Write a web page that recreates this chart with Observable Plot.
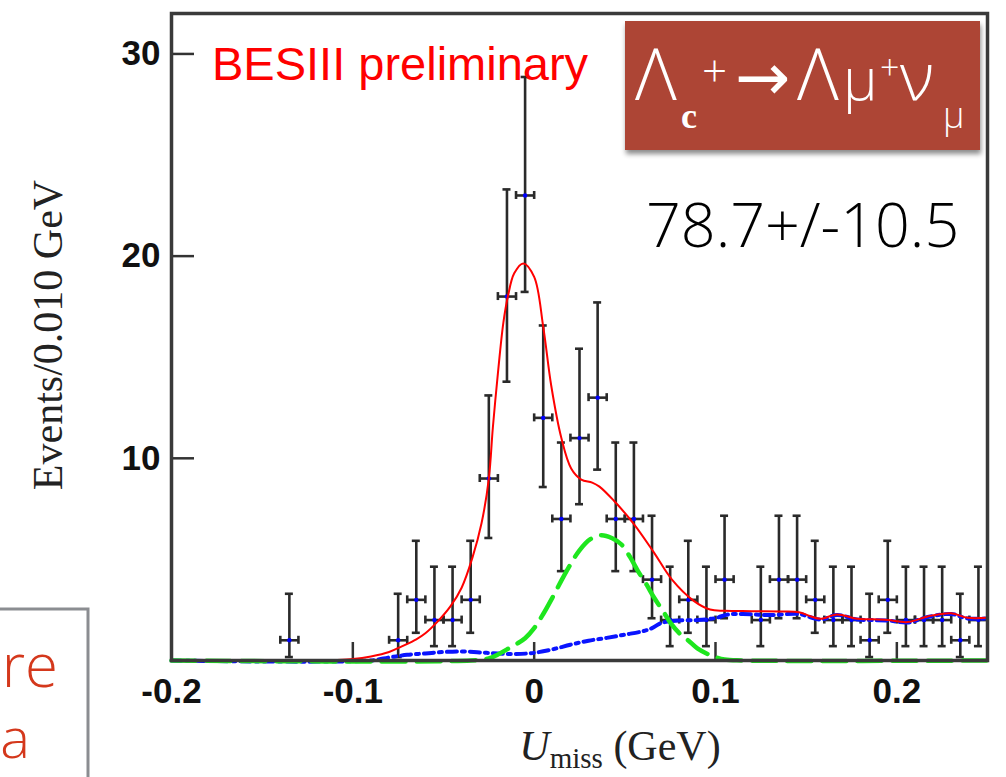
<!DOCTYPE html>
<html><head><meta charset="utf-8">
<script src="https://cdn.jsdelivr.net/npm/d3@7"></script>
<script src="https://cdn.jsdelivr.net/npm/@observablehq/plot@0.6"></script>
<style>body{margin:0;background:#fff;} svg{display:block}</style>
</head><body><div id="chart"></div>
<script>
// ---- data ----
const binCenters = [-0.135, -0.075, -0.065, -0.055, -0.045, -0.035, -0.025, -0.015, -0.005, 0.005, 0.015, 0.025, 0.035, 0.045, 0.055, 0.065, 0.075, 0.085, 0.095, 0.105, 0.125, 0.135, 0.145, 0.155, 0.165, 0.175, 0.185, 0.195, 0.205, 0.215, 0.225, 0.235, 0.245];
const counts     = [1, 1, 3, 2, 2, 3, 9, 18, 23, 12, 7, 11, 13, 7, 7, 4, 2, 3, 2, 4, 2, 4, 4, 3, 2, 2, 1, 3, 2, 2, 2, 1, 2];
const errLow     = [0.83, 0.83, 1.63, 1.29, 1.29, 1.63, 2.94, 4.21, 4.77, 3.42, 2.58, 3.27, 3.56, 2.58, 2.58, 1.91, 1.29, 1.63, 1.29, 1.91, 1.29, 1.91, 1.91, 1.63, 1.29, 1.29, 0.83, 1.63, 1.29, 1.29, 1.29, 0.83, 1.29];
const errHigh    = [2.30, 2.30, 2.92, 2.64, 2.64, 2.92, 4.11, 5.30, 5.86, 4.57, 3.78, 4.42, 4.71, 3.78, 3.78, 3.16, 2.64, 2.92, 2.64, 3.16, 2.64, 3.16, 3.16, 2.92, 2.64, 2.64, 2.30, 2.92, 2.64, 2.64, 2.64, 2.30, 2.64];
const binHalfWidth = 0.005;

const totalFitX = [-0.2, -0.12, -0.11, -0.10, -0.09, -0.08, -0.073, -0.065, -0.06, -0.053, -0.046, -0.04, -0.034, -0.029, -0.025, -0.0228, -0.02, -0.017, -0.0145, -0.011, -0.006, 0.0, 0.005, 0.0094, 0.015, 0.0204, 0.026, 0.032, 0.036, 0.044, 0.055, 0.066, 0.076, 0.088, 0.097, 0.105, 0.12, 0.135, 0.146, 0.152, 0.158, 0.167, 0.178, 0.186, 0.195, 0.206, 0.217, 0.23, 0.239, 0.25];
const totalFitY = [0, 0, 0.02, 0.07, 0.2, 0.42, 0.7, 1.05, 1.35, 1.95, 2.7, 3.6, 5.1, 6.8, 9.0, 11.5, 14.2, 16.7, 18.0, 19.15, 19.64, 18.97, 16.5, 13.6, 11.0, 9.5, 8.95, 8.8, 8.6, 7.9, 6.75, 5.35, 4.0, 2.95, 2.52, 2.46, 2.44, 2.42, 2.39, 2.2, 2.06, 2.28, 2.06, 2.04, 2.0, 1.9, 2.18, 2.34, 2.11, 2.11];

const peakingX = [-0.2, -0.035, -0.025, -0.02, -0.015, -0.01, -0.005, 0.0, 0.005, 0.01, 0.015, 0.02, 0.025, 0.031, 0.037, 0.043, 0.048, 0.053, 0.057, 0.062, 0.066, 0.071, 0.0755, 0.08, 0.085, 0.09, 0.0975, 0.105, 0.115, 0.25];
const peakingY = [0, 0, 0.1, 0.3, 0.55, 0.8, 1.1, 1.6, 2.3, 3.1, 3.95, 4.75, 5.45, 6.0, 6.2, 6.05, 5.75, 5.1, 4.46, 3.75, 3.13, 2.45, 1.82, 1.35, 0.99, 0.6, 0.25, 0.05, 0, 0];

const bkgX = [-0.2, -0.09, -0.08, -0.07, -0.06, -0.05, -0.04, -0.03, -0.02, -0.01, 0.0, 0.01, 0.02, 0.03, 0.04, 0.05, 0.06, 0.065, 0.07, 0.078, 0.09, 0.1, 0.107, 0.115, 0.13, 0.146, 0.152, 0.158, 0.167, 0.178, 0.186, 0.195, 0.206, 0.217, 0.23, 0.239, 0.25];
const bkgY = [0, 0, 0.15, 0.28, 0.35, 0.42, 0.45, 0.4, 0.35, 0.32, 0.38, 0.55, 0.78, 0.98, 1.12, 1.28, 1.45, 1.6, 1.85, 1.97, 2.0, 2.1, 2.28, 2.3, 2.25, 2.3, 2.15, 2.02, 2.25, 2.03, 2.0, 1.98, 1.88, 2.15, 2.3, 2.08, 2.08];

const xTickValues = [-0.2, -0.1, 0, 0.1, 0.2];
const xTickLabels = ["-0.2", "-0.1", "0", "0.1", "0.2"];
const yTickValues = [10, 20, 30];
const yTickLabels = ["10", "20", "30"];
const xDomain = [-0.2, 0.25];
const yDomain = [0, 32];

// ---- build ----
const points = binCenters.map((x, i) => ({x, n: counts[i], lo: counts[i] - errLow[i], hi: counts[i] + errHigh[i]}));
const series = (xs, ys) => xs.map((x, i) => ({x, y: ys[i]}));

const barColor = "#2a2a2a";
const tickFont = "'Liberation Sans Narrow', 'Arial Narrow', 'Liberation Sans', sans-serif";

const plot = Plot.plot({
  width: 1006, height: 777,
  marginLeft: 171, marginRight: 19, marginTop: 13, marginBottom: 117,
  x: {domain: xDomain},
  y: {domain: yDomain},
  style: {background: "white", overflow: "visible"},
  marks: [
    Plot.axisX({ticks: xTickValues, tickFormat: d => xTickLabels[xTickValues.indexOf(d)], tickSize: 0, tickPadding: 18, label: null,
      fontSize: 35, fontWeight: "bold", fontFamily: tickFont, fill: "#111"}),
    Plot.axisY({ticks: yTickValues, tickFormat: d => yTickLabels[yTickValues.indexOf(d)], tickSize: 0, tickPadding: 11, label: null,
      fontSize: 35, fontWeight: "bold", fontFamily: tickFont, fill: "#111"}),
    Plot.ruleX(xTickValues, {x: d => d, y1: 0, y2: 0, insetBottom: 18, stroke: "#333", strokeWidth: 2.5}),
    Plot.ruleY(yTickValues, {y: d => d, x1: xDomain[0], x2: xDomain[0], insetRight: -23, stroke: "#333", strokeWidth: 2.5}),
    // error bars
    Plot.ruleX(points, {x: "x", y1: "lo", y2: "hi", stroke: barColor, strokeWidth: 2.6}),
    Plot.ruleY(points, {y: "lo", x1: "x", x2: "x", insetLeft: -4, insetRight: -4, stroke: barColor, strokeWidth: 2.6}),
    Plot.ruleY(points, {y: "hi", x1: "x", x2: "x", insetLeft: -4, insetRight: -4, stroke: barColor, strokeWidth: 2.6}),
    Plot.ruleY(points, {y: "n", x1: d => d.x - binHalfWidth, x2: d => d.x + binHalfWidth, stroke: barColor, strokeWidth: 2.6}),
    Plot.ruleX(points, {x: d => d.x - binHalfWidth, y1: "n", y2: "n", insetTop: -4, insetBottom: -4, stroke: barColor, strokeWidth: 2.6}),
    Plot.ruleX(points, {x: d => d.x + binHalfWidth, y1: "n", y2: "n", insetTop: -4, insetBottom: -4, stroke: barColor, strokeWidth: 2.6}),
    Plot.dot(points, {x: "x", y: "n", r: 2.2, fill: "#0000ff", stroke: "none"}),
    // fit components
    Plot.line(series(bkgX, bkgY), {x: "x", y: "y", stroke: "#0a14ff", strokeWidth: 4, strokeDasharray: "10,5,3,5", curve: "catmull-rom"}),
    Plot.line(series(peakingX, peakingY), {x: "x", y: "y", stroke: "#1ee61e", strokeWidth: 4.5, strokeDasharray: "24,11", curve: "catmull-rom"}),
    Plot.line(series(totalFitX, totalFitY), {x: "x", y: "y", stroke: "#ff0000", strokeWidth: 2, curve: "catmull-rom"}),
    Plot.frame({stroke: "#3a3a3a", strokeWidth: 3.5})
  ]
});
document.getElementById("chart").appendChild(plot);

// ---- annotations ----
const svg = d3.select(plot);
const defs = svg.append("defs");
const f = defs.append("filter").attr("id", "boxshadow").attr("x", "-10%").attr("y", "-10%").attr("width", "125%").attr("height", "140%");
f.append("feDropShadow").attr("dx", 1).attr("dy", 4).attr("stdDeviation", 2.5).attr("flood-color", "#000").attr("flood-opacity", 0.45);

const ann = svg.append("g").attr("text-anchor", "start");
const sans = "'Liberation Sans', Arial, sans-serif";
const light = "'Open Sans', Lato, 'Liberation Sans', sans-serif";
const serif = "'Liberation Serif', 'Times New Roman', serif";

ann.append("text").attr("x", 212).attr("y", 80).attr("fill", "#ff0000").attr("text-anchor", "start")
  .attr("font-family", sans).attr("font-size", 47).text("BESIII preliminary");

ann.append("rect").attr("x", 625).attr("y", 21).attr("width", 355).attr("height", 129)
  .attr("fill", "#ad4434").attr("filter", "url(#boxshadow)");
const w = (x, y, size, txt, fam = light, weight = 300) =>
  ann.append("text").attr("x", x).attr("y", y).attr("fill", "#fff").attr("text-anchor", "start").attr("font-family", fam)
    .attr("font-size", size).attr("font-weight", weight).text(txt);
w(635, 100, 72, "Λ");
w(681, 128, 36, "c", serif, "bold");
w(702, 87, 44, "+");
w(735, 100, 66, "→", "'DejaVu Sans', sans-serif", "normal");
w(797, 100, 72, "Λ");
w(843, 100, 58, "μ");
w(880, 80, 34, "+");
w(900, 100, 66, "ν");
w(943, 128, 36, "μ");

ann.append("text").attr("x", 646).attr("y", 247).attr("fill", "#000").attr("text-anchor", "start")
  .attr("font-family", light).attr("font-weight", 300).attr("font-size", 61).text("78.7+/-10.5");

// axis titles
ann.append("text").attr("transform", "translate(48,335) rotate(-90)").attr("text-anchor", "middle")
  .attr("dominant-baseline", "central").attr("font-family", serif).attr("font-size", 42).attr("fill", "#222")
  .text("Events/0.010 GeV");
const xl = ann.append("text").attr("x", 620).attr("y", 760).attr("text-anchor", "middle")
  .attr("font-family", serif).attr("font-size", 42).attr("fill", "#222");
xl.append("tspan").attr("font-style", "italic").text("U");
xl.append("tspan").attr("font-size", 29).attr("dy", 8).text("miss");
xl.append("tspan").attr("dy", -8).text(" (GeV)");

// cut-off slide box at bottom-left
ann.append("rect").attr("x", -10).attr("y", 609).attr("width", 98).attr("height", 220)
  .attr("fill", "#fff").attr("stroke", "#8b8d91").attr("stroke-width", 3);
ann.append("text").attr("x", 58).attr("y", 687).attr("text-anchor", "end").attr("fill", "#d4381c")
  .attr("font-family", light).attr("font-weight", 300).attr("font-size", 60).text("re");
ann.append("text").attr("x", 30).attr("y", 758).attr("text-anchor", "end").attr("fill", "#d4381c")
  .attr("font-family", light).attr("font-weight", 300).attr("font-size", 56).text("a");
</script>
</body></html>
